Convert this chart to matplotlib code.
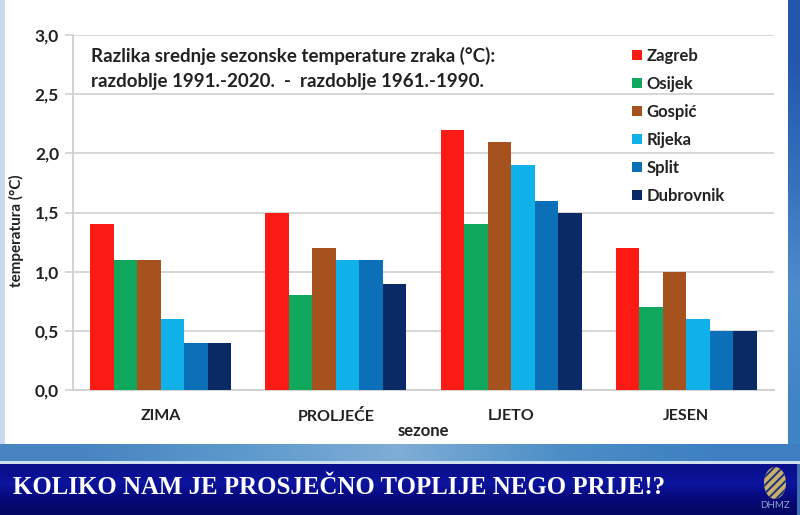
import matplotlib

matplotlib.use("Agg")

import matplotlib.pyplot as plt
import numpy as np
from matplotlib.patches import Ellipse, Rectangle

seasons = ["ZIMA", "PROLJEĆE", "LJETO", "JESEN"]
stations = ["Zagreb", "Osijek", "Gospić", "Rijeka", "Split", "Dubrovnik"]
zagreb = [1.4, 1.5, 2.2, 1.2]
osijek = [1.1, 0.8, 1.4, 0.7]
gospic = [1.1, 1.2, 2.1, 1.0]
rijeka = [0.6, 1.1, 1.9, 0.6]
split = [0.4, 1.1, 1.6, 0.5]
dubrovnik = [0.4, 0.9, 1.5, 0.5]
y_ticks = [0.0, 0.5, 1.0, 1.5, 2.0, 2.5, 3.0]
colors = ["#fb1a14", "#10a85c", "#a5521f", "#10b0e8", "#0b70b8", "#0a2a66"]

W, H = 800, 515
plt.rcParams["font.family"] = ["Lato", "DejaVu Sans"]
plt.rcParams["hatch.linewidth"] = 1.4

fig = plt.figure(figsize=(W / 100, H / 100), dpi=100)

# slide background in pixel coordinates
bg = fig.add_axes([0, 0, 1, 1])
bg.axis("off")
sky = np.array([[0.14, 0.34, 0.68], [0.20, 0.44, 0.74], [0.30, 0.55, 0.80], [0.25, 0.52, 0.78]])
bg.imshow(sky[:, None, :], extent=[0, W, 463, 0], aspect="auto", interpolation="bilinear")
strip = np.array([[[0.28, 0.52, 0.76], [0.36, 0.60, 0.80], [0.50, 0.68, 0.84], [0.30, 0.56, 0.78], [0.24, 0.50, 0.76]]])
bg.imshow(strip, extent=[0, W, 463, 444], aspect="auto", interpolation="bilinear")
bg.add_patch(Rectangle((0, 0), 5, 444, facecolor="#c9d9f0", edgecolor="none"))
bg.add_patch(Rectangle((5, 0), 783, 444, facecolor="white", edgecolor="none"))
banner = np.array([[0.04, 0.06, 0.55], [0.05, 0.08, 0.62], [0.03, 0.04, 0.50], [0.02, 0.03, 0.40]])
bg.imshow(banner[:, None, :], extent=[0, 797, 515, 464], aspect="auto", interpolation="bilinear")
bg.add_patch(Rectangle((0, 461), 800, 3, facecolor="#cfe0ee", edgecolor="none"))
bg.add_patch(Rectangle((797, 464), 3, 51, facecolor="#3f6fb0", edgecolor="none"))
bg.set_xlim(0, W)
bg.set_ylim(H, 0)
bg.text(13, 488, "KOLIKO NAM JE PROSJEČNO TOPLIJE NEGO PRIJE!?", color="white",
        fontsize=17.9, fontweight="bold", family="Liberation Serif", va="center", ha="left")
bg.add_patch(Ellipse((775, 483), 22, 32, facecolor="#c9b06a", edgecolor="#1c2f80", hatch="////", linewidth=0))
bg.text(775, 505, "DHMZ", color="#8fa6d0", fontsize=7, ha="center", va="center")

# chart
ax = fig.add_axes([73 / W, 1 - 390 / H, (774 - 73) / W, 355 / H])
ax.set_facecolor("none")
x = np.arange(len(seasons))
bar_w = 0.134
series = [zagreb, osijek, gospic, rijeka, split, dubrovnik]
for i, values in enumerate(series):
    ax.bar(x + (i - 2.5) * bar_w, values, bar_w, color=colors[i], label=stations[i], zorder=3)

ax.set_xlim(-0.5, 3.5)
ax.set_ylim(0, 3)
ax.set_yticks(y_ticks)
ax.set_yticklabels([f"{v:.1f}".replace(".", ",") for v in y_ticks], fontsize=12.5, fontweight="bold", color="#222222")
ax.set_xticks(x)
ax.set_xticklabels(seasons, fontsize=11.5, fontweight="bold", color="#222222")
ax.grid(True, axis="y", color="#d4d4d4", linewidth=1.3, zorder=0)
for side in ["top", "right"]:
    ax.spines[side].set_visible(False)
for side in ["left", "bottom"]:
    ax.spines[side].set_color("#cfcfcf")
    ax.spines[side].set_linewidth(1.3)
ax.tick_params(axis="y", length=6, color="#d4d4d4", width=1.3, pad=4)
ax.tick_params(axis="x", length=0, pad=14)
ax.set_xlabel("sezone", fontsize=12, fontweight="bold", color="#222222", labelpad=-1)
ax.set_ylabel("temperatura (°C)", fontsize=11, fontweight="bold", color="#222222")
ax.yaxis.set_label_coords((24 - 73) / 701, 0.448)

ax.text(91 / W, 1 - 56 / H, "Razlika srednje sezonske temperature zraka (°C):", transform=fig.transFigure,
        fontsize=13.5, fontweight="bold", color="#222222", va="center")
ax.text(91 / W, 1 - 82 / H, "razdoblje 1991.-2020.  -  razdoblje 1961.-1990.", transform=fig.transFigure,
        fontsize=13.5, fontweight="bold", color="#222222", va="center")

ax.legend(loc="upper left", bbox_to_anchor=(632 / W, 1 - 48 / H), bbox_transform=fig.transFigure,
          frameon=False, ncol=1, labelspacing=0.72, handlelength=0.6, handleheight=0.6,
          handletextpad=0.27, borderpad=0, borderaxespad=0, prop={"weight": "bold", "size": 12},
          labelcolor="#222222")

fig.savefig("out.png", dpi=100)
plt.close(fig)
